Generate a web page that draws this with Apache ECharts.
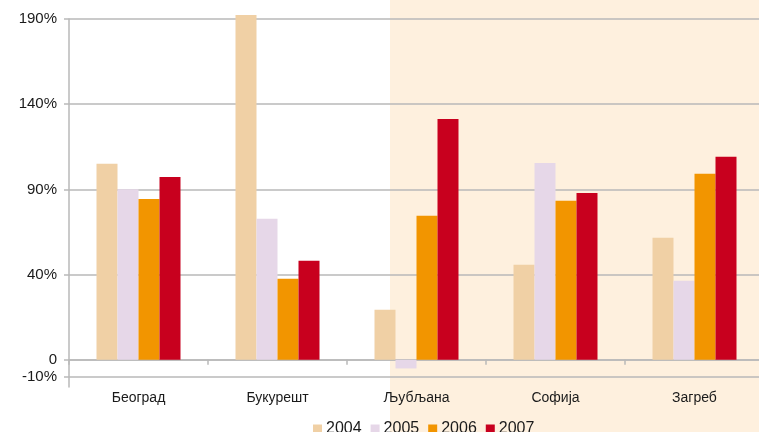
<!DOCTYPE html>
<html>
<head>
<meta charset="utf-8">
<script src="https://cdn.jsdelivr.net/npm/echarts@6/dist/echarts.min.js"></script>
<style>
html,body{margin:0;padding:0;background:#fff;}
#chart{width:759px;height:432px;}
</style>
</head>
<body>
<div id="chart"></div>
<script>
// Categories (cities)
var categories = ['Београд', 'Букурешт', 'Љубљана', 'Софија', 'Загреб'];
// Series names (years)
var years = ['2004', '2005', '2006', '2007'];
// Values per year, in axis units measured from the bar baseline
var values2004 = [115.0, 202.3, 29.3, 55.7, 71.6];
var values2005 = [100.1, 82.7, -5.1, 115.5, 46.3];
var values2006 = [94.4, 47.5, 84.5, 93.3, 109.1];
var values2007 = [107.3, 58.1, 141.3, 97.9, 119.1];
// Value-axis tick positions and the labels printed at them
var yTickValues = [-10, 0, 50, 100, 150, 200];
var yTickLabels = ['-10%', '0', '40%', '90%', '140%', '190%'];

var colors = ['#F0D0A5', '#E6D7E8', '#F29500', '#C8001E'];
var seriesData = [values2004, values2005, values2006, values2007];

var chart = echarts.init(document.getElementById('chart'), null, {renderer: 'canvas'});
var labelFont = "'Liberation Sans Narrow', 'Arial Narrow', 'Liberation Sans', sans-serif";
var gridColor = '#b9b9b9';

var option = {
  animation: false,
  backgroundColor: '#ffffff',
  graphic: {
    elements: [{
      type: 'rect', left: 390, top: 0, z: -100, silent: true,
      shape: {width: 369, height: 432},
      style: {fill: '#FEF0DE'}
    }]
  },
  grid: {left: 69, width: 695, top: 19, bottom: 45, containLabel: false, outerBoundsMode: 'none'},
  legend: {
    data: years,
    left: 308, top: 416,
    itemWidth: 9, itemHeight: 9, itemGap: 9,
    icon: 'rect',
    textStyle: {fontFamily: "'Liberation Sans', Arial, sans-serif", fontSize: 16, color: '#1a1a1a', padding: [0,0,0,-1]}
  },
  xAxis: {
    type: 'category',
    data: categories,
    boundaryGap: true,
    axisLine: {onZero: true, lineStyle: {color: gridColor, width: 1.5}},
    axisTick: {show: true, length: 5, lineStyle: {color: gridColor, width: 1.5}},
    axisLabel: {margin: 4, fontFamily: labelFont, fontSize: 14, color: '#1a1a1a'},
    splitLine: {show: false}
  },
  yAxis: {
    type: 'value',
    min: -16, max: 200,
    axisLine: {show: true, lineStyle: {color: gridColor, width: 1.5}},
    axisTick: {show: true, length: 5, customValues: yTickValues, lineStyle: {color: gridColor, width: 1.5}},
    axisLabel: {
      customValues: yTickValues,
      margin: 12,
      fontFamily: "'Liberation Sans', Arial, sans-serif",
      fontSize: 15,
      color: '#1a1a1a',
      formatter: function (v) {
        var i = yTickValues.indexOf(v);
        return i >= 0 ? yTickLabels[i] : '';
      }
    },
    splitLine: {show: true, lineStyle: {color: gridColor, width: 1.5}}
  },
  series: years.map(function (y, i) {
    return {
      name: y,
      type: 'bar',
      data: seriesData[i],
      barWidth: 21,
      barGap: '0%',
      clip: false,
      itemStyle: {color: colors[i]}
    };
  })
};
chart.setOption(option);
</script>
</body>
</html>
